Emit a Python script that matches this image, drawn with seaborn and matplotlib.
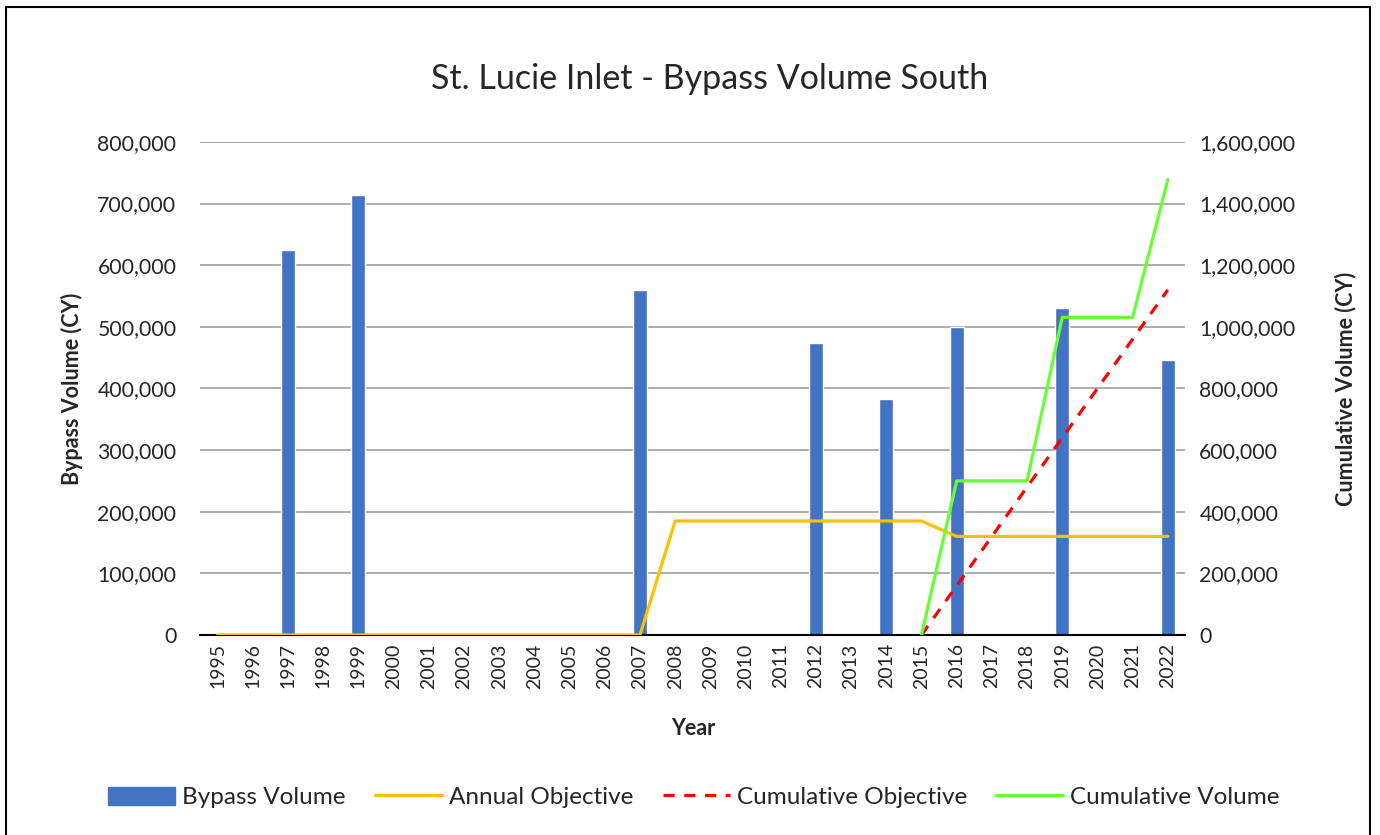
#Import libraries
import numpy as np
import pandas as pd
import matplotlib
matplotlib.use("Agg")
import matplotlib.pyplot as plt
from matplotlib.patches import Patch, Rectangle
from matplotlib.lines import Line2D
from matplotlib.ticker import FuncFormatter, MultipleLocator, FixedLocator
import seaborn as sns

# data
years = ["1995", "1996", "1997", "1998", "1999", "2000", "2001", "2002", "2003", "2004",
         "2005", "2006", "2007", "2008", "2009", "2010", "2011", "2012", "2013", "2014",
         "2015", "2016", "2017", "2018", "2019", "2020", "2021", "2022"]

bypass_volume = [0, 0, 625000, 0, 714000, 0, 0, 0, 0, 0,
                 0, 0, 560000, 0, 0, 0, 0, 474000, 0, 383000,
                 0, 500000, 0, 0, 531000, 0, 0, 447000]

annual_objective = [0, 0, 0, 0, 0, 0, 0, 0, 0, 0,
                    0, 0, 0, 185000, 185000, 185000, 185000, 185000, 185000, 185000,
                    185000, 160000, 160000, 160000, 160000, 160000, 160000, 160000]

cumulative_objective = [np.nan] * 20 + [0, 160000, 320000, 480000, 640000, 800000, 960000, 1120000]

cumulative_volume = [np.nan] * 20 + [0, 500000, 500000, 500000, 1031000, 1031000, 1031000, 1478000]

df = pd.DataFrame({
    "Year": years,
    "Bypass": bypass_volume,
    "Annual": annual_objective,
    "CumObj": cumulative_objective,
    "CumVol": cumulative_volume,
})
df["pos"] = np.arange(len(df))

#style
sns.set_theme(style="white")
plt.rcParams["font.family"] = ["Lato", "DejaVu Sans"]

bar_color = "#4472C4"
yellow = "#FFC000"
red = "#FF0000"
green = "#66FF33"

fig = plt.figure(figsize=(13.8, 8.35), dpi=100)
ax = fig.add_axes([0.145, 0.2395, 0.714, 0.5905])
ax2 = ax.twinx()

# bars
sns.barplot(data=df, x="Year", y="Bypass", color=bar_color, width=0.4,
            saturation=1, ax=ax, zorder=2)
# annual objective on left axis
sns.lineplot(data=df, x="pos", y="Annual", color=yellow, linewidth=2.3,
             estimator=None, ax=ax, zorder=3)

# cumulative lines on right axis
sns.lineplot(data=df, x="pos", y="CumObj", color=red, linewidth=2.3,
             estimator=None, ax=ax2)
ax2.lines[-1].set_dashes([3.5, 3])
sns.lineplot(data=df, x="pos", y="CumVol", color=green, linewidth=2.3,
             estimator=None, ax=ax2)

# axes limits and ticks
ax.set_xlim(-0.5, len(years) - 0.5)
ax.set_ylim(0, 800000)
ax2.set_ylim(0, 1600000)
ax.yaxis.set_major_locator(MultipleLocator(100000))
ax2.yaxis.set_major_locator(MultipleLocator(200000))
fmt = FuncFormatter(lambda v, p: f"{int(v):,}")
ax.yaxis.set_major_formatter(fmt)
ax2.yaxis.set_major_formatter(fmt)

ax.set_xticks(df["pos"])
ax.set_xticklabels(years, rotation=90)
ax.xaxis.set_minor_locator(FixedLocator(np.arange(-0.5, len(years), 1)))
ax.tick_params(axis="x", which="major", length=0, labelsize=14, pad=6)
ax.tick_params(axis="x", which="minor", length=7, width=1.2, color="black", direction="out")
ax.tick_params(axis="y", length=0, labelsize=15.3, pad=17)
ax2.tick_params(axis="y", length=0, labelsize=15.3, pad=10)

ax.grid(axis="y", color="#A6A6A6", linewidth=1.3, zorder=0)
ax.set_axisbelow(True)
for s in ["left", "right", "top"]:
    ax.spines[s].set_visible(False)
    ax2.spines[s].set_visible(False)
ax2.spines["bottom"].set_visible(False)
ax.spines["bottom"].set_color("black")
ax.spines["bottom"].set_linewidth(1.5)

ax.set_xlabel("Year", fontsize=15.5, fontweight="bold", labelpad=21)
ax.set_ylabel("Bypass Volume (CY)", fontsize=15.5, fontweight="bold", labelpad=10)
ax2.set_ylabel("Cumulative Volume (CY)", fontsize=15.5, fontweight="bold", labelpad=28)

fig.text(0.5145, 0.905, "St. Lucie Inlet - Bypass Volume South", ha="center", va="center",
         fontsize=24.5)

# legend
handles = [
    Patch(facecolor=bar_color, edgecolor=bar_color),
    Line2D([0], [0], color=yellow, linewidth=2.3),
    Line2D([0], [0], color=red, linewidth=2.3, dashes=[3.5, 3]),
    Line2D([0], [0], color=green, linewidth=2.3),
]
labels = ["Bypass Volume", "Annual Objective", "Cumulative Objective", "Cumulative Volume"]
fig.legend(handles, labels, loc="center", bbox_to_anchor=(0.503, 0.045), ncol=4,
           frameon=False, fontsize=17.5, handlelength=2.75, handleheight=0.75,
           handletextpad=0.3, columnspacing=1.2)

# chart border
fig.add_artist(Rectangle((6 / 1380, -0.01), 1364 / 1380, 1 - 7 / 835 + 0.01,
                         transform=fig.transFigure, fill=False, edgecolor="black",
                         linewidth=1.5, clip_on=False))

fig.savefig("out.png", dpi=100)
